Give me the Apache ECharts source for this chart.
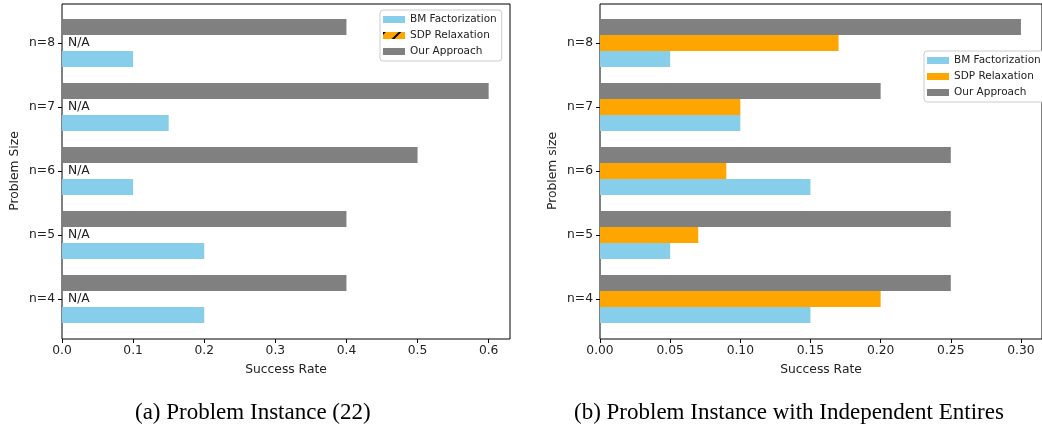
<!DOCTYPE html>
<html>
<head>
<meta charset="utf-8">
<script src="https://cdn.jsdelivr.net/npm/echarts@6/dist/echarts.min.js"></script>
<style>
  html, body { margin: 0; padding: 0; background: #fff; }
  #chart { width: 1042px; height: 431px; }
</style>
</head>
<body>
<div id="chart"></div>
<script>
// 类别 (bottom to top)
const categories = ['n=4', 'n=5', 'n=6', 'n=7', 'n=8'];

// (a) Problem Instance (22)
const bmA = [0.2, 0.2, 0.1, 0.15, 0.1];
const sdpA = [null, null, null, null, null]; // N/A
const oursA = [0.4, 0.4, 0.5, 0.6, 0.4];
const ticksA = [0, 0.1, 0.2, 0.3, 0.4, 0.5, 0.6];

// (b) Problem Instance with Independent Entires
const bmB = [0.15, 0.05, 0.15, 0.10, 0.05];
const sdpB = [0.20, 0.07, 0.09, 0.10, 0.17];
const oursB = [0.25, 0.25, 0.25, 0.20, 0.30];
const ticksB = [0, 0.05, 0.10, 0.15, 0.20, 0.25, 0.30];

const FONT = 'DejaVu Sans';
const FS = 12.3;
const BLUE = '#87CEEB', ORANGE = '#FFA500', GREY = '#808080';

const chart = echarts.init(document.getElementById('chart'));

// frame grids draw the black box, data grids hold the bars
const frameA = { left: 62, top: 4, width: 448, height: 335 };
const dataA = { left: 62, top: 11, width: 448, height: 320 };
const frameB = { left: 600, top: 4, width: 449, height: 335 };
const dataB = { left: 600, top: 11, width: 449, height: 320 };

function frameGrid(g) {
  return Object.assign({ show: true, borderColor: '#000', borderWidth: 1, backgroundColor: 'transparent', containLabel: false }, g);
}

function valueAxis(gridIndex, max, ticks, digits) {
  return {
    type: 'value', gridIndex, min: 0, max,
    offset: 8,
    axisLine: { show: false },
    axisTick: { show: true, length: 4, customValues: ticks, lineStyle: { color: '#000', width: 1 } },
    axisLabel: { customValues: ticks, formatter: v => v.toFixed(digits), fontFamily: FONT, fontSize: FS, color: '#222', margin: 6 },
    splitLine: { show: false },
    name: 'Success Rate', nameLocation: 'middle', nameGap: 25,
    nameTextStyle: { fontFamily: FONT, fontSize: FS, color: '#222' }
  };
}

function catAxis(gridIndex, name) {
  return {
    type: 'category', gridIndex, data: categories,
    axisLine: { show: false },
    axisTick: { show: true, alignWithLabel: true, length: 4, lineStyle: { color: '#000', width: 1 } },
    axisLabel: { fontFamily: FONT, fontSize: FS, color: '#222', margin: 7 },
    name, nameLocation: 'middle', nameGap: 41,
    nameTextStyle: { fontFamily: FONT, fontSize: FS, color: '#222' }
  };
}

const hiddenX = (gridIndex, max) => ({ type: 'value', gridIndex, min: 0, max, show: false });
const hiddenY = gridIndex => ({ type: 'value', gridIndex, min: 0, max: 1, show: false });

function bar(name, data, color, axis, extra) {
  return Object.assign({
    name, type: 'bar', xAxisIndex: axis, yAxisIndex: axis, data,
    barWidth: 16, barGap: '0%',
    itemStyle: { color },
    animation: false
  }, extra || {});
}

// '/' hatch for the N/A series
const hatch = {
  color: '#000', backgroundColor: ORANGE,
  symbol: 'rect', symbolSize: 1,
  dashArrayX: [1, 0], dashArrayY: [1.2, 9],
  rotation: -Math.PI / 4
};

const legendText = { fontFamily: FONT, fontSize: 10.5, color: '#222' };
const legendBase = {
  orient: 'vertical', icon: 'rect', itemWidth: 22, itemHeight: 7, itemGap: 5,
  backgroundColor: '#fff', borderColor: '#ccc', borderWidth: 1, borderRadius: 3,
  padding: [4, 5, 4, 3], textStyle: legendText, selectedMode: false
};

const captionStyle = { fontFamily: 'Liberation Serif', fontSize: 23, fontWeight: 'normal', color: '#000' };

const options = {
  animation: false,
  title: [
    { text: '(a) Problem Instance (22)', left: 135, top: 401, padding: 0, textStyle: captionStyle },
    { text: '(b) Problem Instance with Independent Entires', left: 574, top: 401, padding: 0, textStyle: captionStyle }
  ],
  legend: [
    Object.assign({}, legendBase, { left: 380, top: 10,
      data: ['BM Factorization', 'SDP Relaxation', 'Our Approach'] }),
    Object.assign({}, legendBase, { left: 924, top: 51,
      data: ['BM Factorization', { name: 'SDP Relaxation', itemStyle: { decal: 'none', color: ORANGE } }, 'Our Approach'] })
  ],
  grid: [frameGrid(frameA), dataA, frameGrid(frameB), dataB],
  xAxis: [hiddenX(0, 0.63), valueAxis(1, 0.63, ticksA, 1), hiddenX(2, 0.315), valueAxis(3, 0.315, ticksB, 2)],
  yAxis: [hiddenY(0), catAxis(1, 'Problem Size'), hiddenY(2), catAxis(3, 'Problem size')],
  series: [
    // (a)
    bar('Our Approach', oursA, GREY, 1),
    bar('SDP Relaxation', sdpA.map(v => v === null ? { value: 0, label: { show: true } } : v), ORANGE, 1, {
      itemStyle: { color: ORANGE, decal: hatch },
      label: { show: false, position: 'right', distance: 6, formatter: 'N/A',
        fontFamily: FONT, fontSize: FS, color: '#222' }
    }),
    bar('BM Factorization', bmA, BLUE, 1),
    // (b)
    bar('Our Approach', oursB, GREY, 3),
    bar('SDP Relaxation', sdpB, ORANGE, 3),
    bar('BM Factorization', bmB, BLUE, 3)
  ]
};

chart.setOption(options);
</script>
</body>
</html>
